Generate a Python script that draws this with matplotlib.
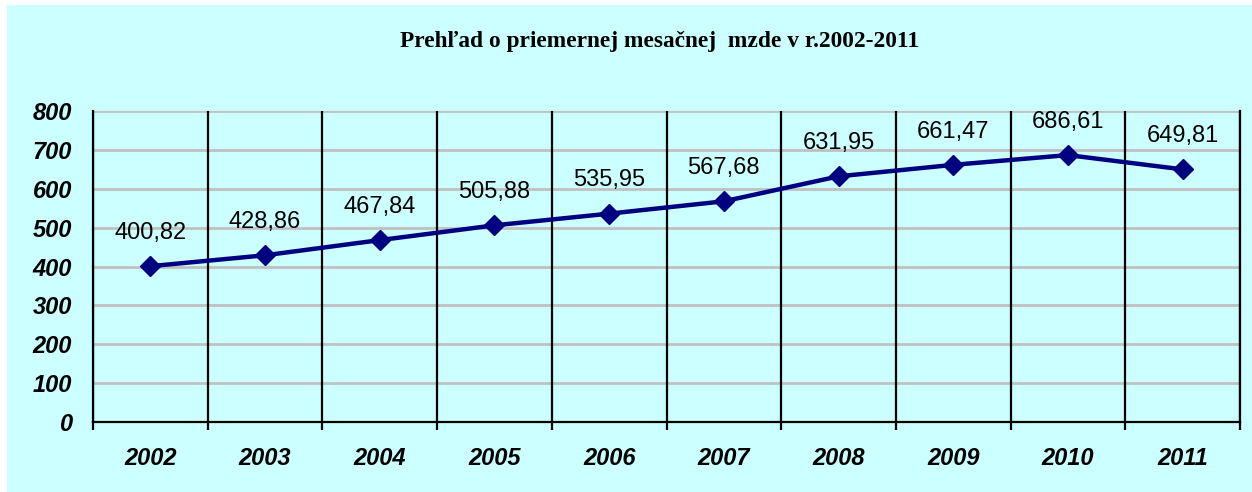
import matplotlib.pyplot as plt
from matplotlib.patches import Rectangle

# Data
years = ['2002', '2003', '2004', '2005', '2006', '2007', '2008', '2009', '2010', '2011']
wages = [400.82, 428.86, 467.84, 505.88, 535.95, 567.68, 631.95, 661.47, 686.61, 649.81]
y_ticks = [0, 100, 200, 300, 400, 500, 600, 700, 800]

bg = '#CCFFFF'
line_color = '#000080'

plt.rcParams['font.family'] = ['Liberation Sans', 'DejaVu Sans']

fig = plt.figure(figsize=(12.52, 4.92), dpi=100, facecolor=bg)
# thin white margin at left and top
fig.patches.append(Rectangle((0, 0), 7 / 1252, 1, transform=fig.transFigure,
                             facecolor='white', edgecolor='none'))
fig.patches.append(Rectangle((0, 1 - 5 / 492), 1, 5 / 492, transform=fig.transFigure,
                             facecolor='white', edgecolor='none'))

ax = fig.add_axes([93 / 1252, 1 - 422 / 492, (1240 - 93) / 1252, (422 - 111) / 492])
ax.set_facecolor(bg)

x = list(range(len(years)))
ax.plot(x, wages, color=line_color, linewidth=3.2, marker='D', markersize=10.5,
        markerfacecolor=line_color, markeredgecolor=line_color, zorder=5)

# Data labels with comma as decimal separator
for xi, v in zip(x, wages):
    ax.annotate(f'{v:.2f}'.replace('.', ','), (xi, v), xytext=(0, 24),
                textcoords='offset points', ha='center', va='center',
                fontsize=17, color='black')

ax.set_xlim(-0.5, len(years) - 0.5)
ax.set_ylim(0, 800)

# Horizontal gray gridlines
ax.set_yticks(y_ticks)
ax.set_yticklabels([str(t) for t in y_ticks], fontsize=17, fontweight='bold', fontstyle='italic')
ax.yaxis.grid(True, color='#C0C0C0', linewidth=2)
ax.tick_params(axis='y', length=0, pad=15)

# Category labels at centers, tick marks at boundaries
ax.set_xticks(x)
ax.set_xticklabels(years, fontsize=17, fontweight='bold', fontstyle='italic')
ax.set_xticks([i - 0.5 for i in range(len(years) + 1)], minor=True)
ax.tick_params(axis='x', which='major', length=0, pad=18)
ax.tick_params(axis='x', which='minor', length=6, width=1.6, color='black')
for b in range(len(years) + 1):
    ax.axvline(b - 0.5, color='black', linewidth=1.6, zorder=2)

ax.set_axisbelow(True)
for side in ['left', 'right', 'bottom']:
    ax.spines[side].set_color('black')
    ax.spines[side].set_linewidth(1.6)
ax.spines['top'].set_visible(False)

fig.text(660 / 1252, 1 - 42 / 492, 'Prehľad o priemernej mesačnej  mzde v r.2002-2011',
         ha='center', va='center', fontsize=16.8, fontweight='bold',
         family=['Liberation Serif', 'DejaVu Serif'])

fig.savefig('out.png', dpi=100, facecolor=fig.get_facecolor())
